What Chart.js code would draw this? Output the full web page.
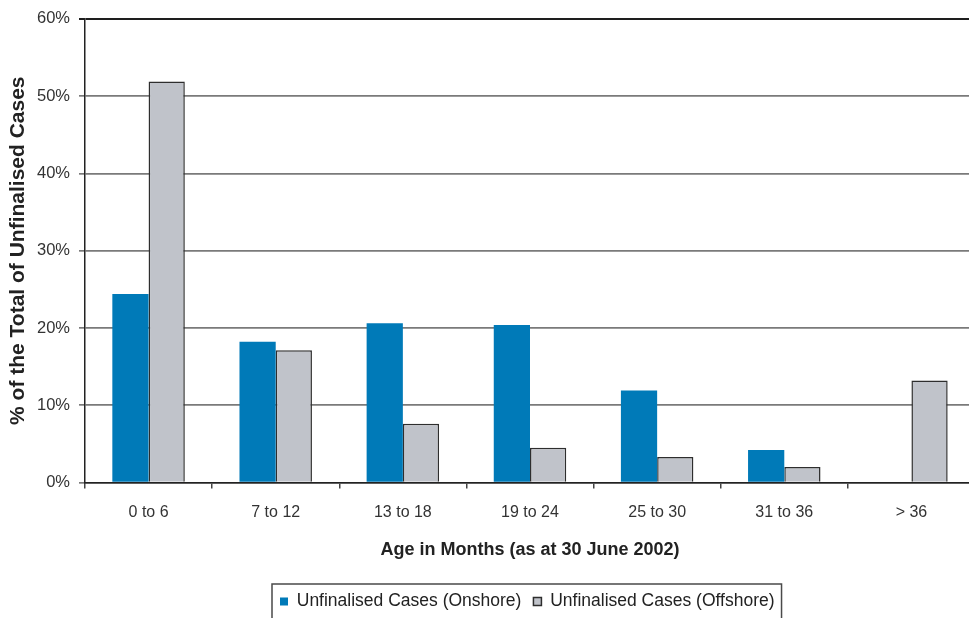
<!DOCTYPE html>
<html>
<head>
<meta charset="utf-8">
<script src="https://cdn.jsdelivr.net/npm/chart.js@4.4.1/dist/chart.umd.min.js"></script>
<style>
  html, body { margin: 0; padding: 0; background: #ffffff; overflow: hidden; }
  #wrap { width: 980px; height: 618px; }
</style>
</head>
<body>
<div id="wrap"><canvas id="chart" width="980" height="618"></canvas></div>
<script>
// Age bands of unfinalised cases and their share of the total (%)
const categories = ['0 to 6', '7 to 12', '13 to 18', '19 to 24', '25 to 30', '31 to 36', '> 36'];
const onshore = [24.4, 18.2, 20.6, 20.4, 11.9, 4.2, 0];
const offshore = [51.9, 17.1, 7.6, 4.5, 3.3, 2.0, 13.2];
const yTicks = [0, 10, 20, 30, 40, 50, 60];

const FONT = '"Liberation Sans", Arial, Helvetica, sans-serif';

// Positions the legend row and draws the frame around it
const legendFrame = {
  id: 'legendFrame',
  afterUpdate(chart) {
    const lg = chart.legend;
    if (!lg || !lg.legendHitBoxes || !lg.legendHitBoxes.length) return;
    const hb = lg.legendHitBoxes;
    const dx = 280 - hb[0].left;
    const dy = 601.5 - (hb[0].top + hb[0].height / 2);
    lg.left += dx; lg.right += dx; lg.top += dy; lg.bottom += dy;
    hb.forEach(b => { b.left += dx; b.top += dy; });
  },
  afterDraw(chart) {
    const lg = chart.legend;
    if (!lg || !lg.legendHitBoxes || !lg.legendHitBoxes.length) return;
    const hb = lg.legendHitBoxes;
    const last = hb[hb.length - 1];
    const x0 = hb[0].left - 8;
    const x1 = last.left + last.width + 7;
    const y0 = hb[0].top + hb[0].height / 2 - 17.5;
    const ctx = chart.ctx;
    ctx.save();
    ctx.strokeStyle = '#4a4a4a';
    ctx.lineWidth = 1.5;
    ctx.strokeRect(x0, y0, x1 - x0, chart.height + 10 - y0);
    ctx.restore();
  }
};

new Chart(document.getElementById('chart'), {
  type: 'bar',
  data: {
    labels: categories,
    datasets: [
      {
        label: 'Unfinalised Cases (Onshore)',
        data: onshore,
        backgroundColor: '#007ab8',
        borderWidth: 0,
        categoryPercentage: 0.57,
        barPercentage: 1.0
      },
      {
        label: 'Unfinalised Cases (Offshore)',
        data: offshore,
        backgroundColor: '#c0c3ca',
        borderColor: '#2e2e2e',
        borderWidth: 1.5,
        categoryPercentage: 0.57,
        barPercentage: 1.0
      }
    ]
  },
  options: {
    responsive: false,
    animation: false,
    devicePixelRatio: 1,
    layout: { padding: { top: 18, right: 5, left: 0, bottom: 0 } },
    plugins: {
      tooltip: { enabled: false },
      legend: {
        position: 'bottom',
        labels: {
          boxWidth: 8,
          boxHeight: 8,
          padding: 12,
          color: '#222222',
          font: { family: FONT, size: 17.5 }
        }
      }
    },
    scales: {
      x: {
        grid: {
          offset: true,
          drawOnChartArea: false,
          drawTicks: true,
          tickLength: 6,
          color: '#444444',
          lineWidth: 1.5
        },
        border: { display: true, color: '#222222', width: 1.5 },
        ticks: {
          color: '#333333',
          padding: 14,
          font: { family: FONT, size: 16 }
        },
        title: {
          display: true,
          text: 'Age in Months (as at 30 June 2002)',
          color: '#222222',
          font: { family: FONT, size: 18, weight: 'bold' },
          padding: { top: 0, bottom: 18 }
        },
        afterFit(scale) { scale.height = 96; }
      },
      y: {
        min: 0,
        max: 60,
        afterBuildTicks(scale) { scale.ticks = yTicks.map(v => ({ value: v })); },
        grid: {
          drawTicks: true,
          tickLength: 6,
          color: ctx => (ctx.tick && ctx.tick.value === 60 ? '#1e1e1e' : '#7a7a7a'),
          lineWidth: ctx => (ctx.tick && ctx.tick.value === 60 ? 2 : 1.7)
        },
        border: { display: true, color: '#222222', width: 1.5 },
        ticks: {
          color: '#333333',
          padding: 9,
          font: { family: FONT, size: 16.5 },
          callback: v => v + '%'
        },
        title: {
          display: true,
          text: '% of the Total of Unfinalised Cases',
          color: '#222222',
          font: { family: FONT, size: 21, weight: 'bold' },
          padding: { top: 6, bottom: 0 }
        },
        afterFit(scale) { scale.width = 85; }
      }
    }
  },
  plugins: [legendFrame]
});
</script>
</body>
</html>
